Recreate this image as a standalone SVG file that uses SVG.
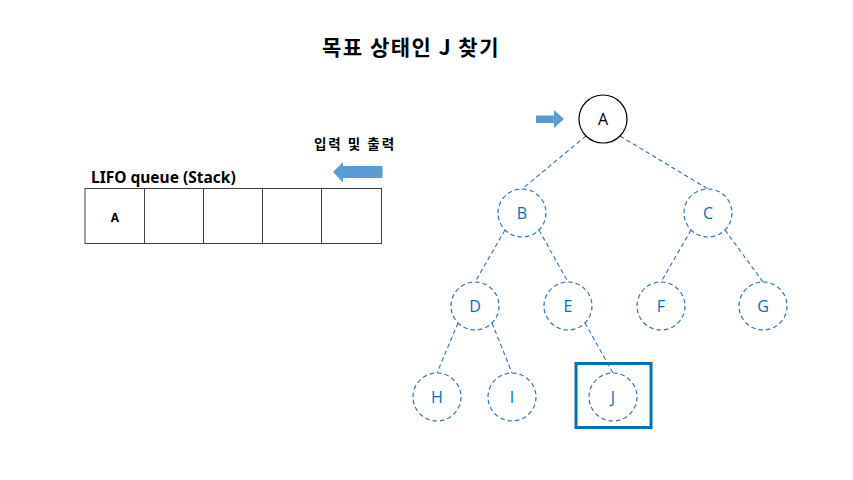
<svg xmlns="http://www.w3.org/2000/svg" width="853" height="480" viewBox="0 0 853 480">
<style>
.bg{fill:#ffffff}
.title{font-family:"Noto Sans CJK KR","Noto Sans",sans-serif;font-weight:bold;font-size:21px;letter-spacing:1.5px;fill:#000}
.lbl{font-family:"Noto Sans CJK KR","Noto Sans",sans-serif;font-weight:bold;font-size:13.5px;letter-spacing:2px;fill:#000}
.stk{font-family:"Noto Sans","Open Sans",sans-serif;font-weight:bold;font-size:15.5px;fill:#000}
.cell{fill:#fff;stroke:#404040;stroke-width:1}
.celltxt{font-family:"Noto Sans","Liberation Sans",sans-serif;font-weight:bold;font-size:12px;fill:#000;text-anchor:middle}
.node{fill:#fff;stroke:#2E75B6;stroke-width:1.2;stroke-dasharray:4.5 3}
.root{fill:#fff;stroke:#000;stroke-width:1.2}
.ntxt{font-family:"Open Sans","Noto Sans",sans-serif;font-size:16px;fill:#0070C0;text-anchor:middle}
.rtxt{font-family:"Open Sans","Noto Sans",sans-serif;font-size:16px;fill:#000;text-anchor:middle}
.edge{stroke:#2E75B6;stroke-width:1.1;stroke-dasharray:4.5 3;fill:none}
.arrow{fill:#5B9BD5}
</style>
<rect class="bg" x="0" y="0" width="853" height="480"/>
<text class="title" x="411" y="55" text-anchor="middle">목표 상태인 J 찾기</text>
<text class="lbl" x="355" y="149" text-anchor="middle">입력 및 출력</text>
<text class="stk" x="91" y="183">LIFO queue (Stack)</text>

<g id="arrow-in">
<polygon class="arrow" points="536,115.5 554,115.5 554,110 564,119 554,128 554,123 536,123"/>
</g>
<g id="arrow-out">
<polygon class="arrow" points="382.5,166 343,166 343,162 333,172 343,182.5 343,178 382.5,178"/>
</g>

<g id="stack">
<rect class="cell" x="85" y="188.5" width="296.5" height="55"/>
<line class="cell" x1="144.5" y1="188.5" x2="144.5" y2="243.5"/>
<line class="cell" x1="203.5" y1="188.5" x2="203.5" y2="243.5"/>
<line class="cell" x1="262.5" y1="188.5" x2="262.5" y2="243.5"/>
<line class="cell" x1="321.5" y1="188.5" x2="321.5" y2="243.5"/>
<text class="celltxt" x="115" y="222">A</text>
</g>

<g id="connectors">
<line class="edge" x1="586" y1="136" x2="522" y2="189"/>
<line class="edge" x1="620" y1="136" x2="708" y2="189"/>
<line class="edge" x1="505" y1="230" x2="475" y2="282"/>
<line class="edge" x1="539" y1="230" x2="568" y2="282"/>
<line class="edge" x1="691" y1="230" x2="661" y2="282"/>
<line class="edge" x1="725" y1="230" x2="763" y2="282"/>
<line class="edge" x1="458" y1="323" x2="437" y2="373"/>
<line class="edge" x1="492" y1="323" x2="512" y2="373"/>
<line class="edge" x1="585" y1="323" x2="613" y2="373"/>
</g>

<g id="node-A"><circle class="root" cx="603" cy="119" r="24"/><text class="rtxt" x="603" y="125">A</text></g>
<g id="node-B"><circle class="node" cx="522" cy="213" r="24"/><text class="ntxt" x="522" y="219">B</text></g>
<g id="node-C"><circle class="node" cx="708" cy="213" r="24"/><text class="ntxt" x="708" y="219">C</text></g>
<g id="node-D"><circle class="node" cx="475" cy="306" r="24"/><text class="ntxt" x="475" y="312">D</text></g>
<g id="node-E"><circle class="node" cx="568" cy="306" r="24"/><text class="ntxt" x="568" y="312">E</text></g>
<g id="node-F"><circle class="node" cx="661" cy="306" r="24"/><text class="ntxt" x="661" y="312">F</text></g>
<g id="node-G"><circle class="node" cx="763" cy="306" r="24"/><text class="ntxt" x="763" y="312">G</text></g>
<g id="node-H"><circle class="node" cx="437" cy="397" r="24"/><text class="ntxt" x="437" y="403">H</text></g>
<g id="node-I"><circle class="node" cx="512" cy="397" r="24"/><text class="ntxt" x="512" y="403">I</text></g>
<g id="node-J">
<rect x="576" y="363.5" width="75" height="64" fill="none" stroke="#0070C0" stroke-width="3"/>
<circle class="node" cx="613" cy="397" r="24"/><text class="ntxt" x="613" y="403">J</text>
</g>
</svg>
